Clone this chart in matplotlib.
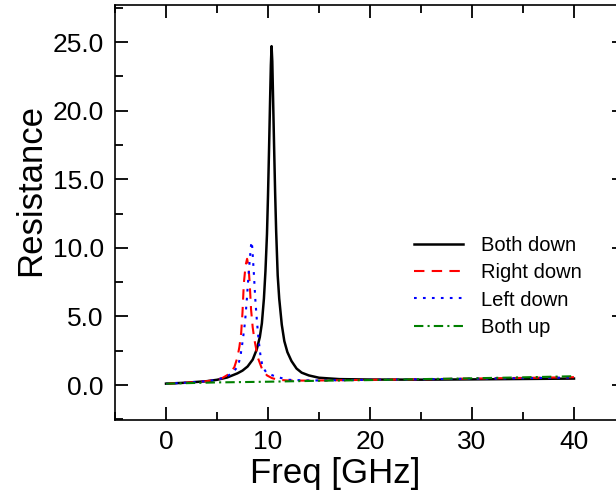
import matplotlib
matplotlib.use("Agg")
from matplotlib import pyplot as plt
from matplotlib.ticker import MultipleLocator, FormatStrFormatter

plt.rcParams['font.family'] = ['Liberation Sans', 'DejaVu Sans']

# -----data-----#
freq_both_down = [0, 2, 4, 5, 6, 7, 7.5, 8, 8.5, 8.9, 9.2, 9.4, 9.6, 9.75, 9.9, 10.0, 10.1,
                  10.2, 10.28, 10.35, 10.42, 10.5, 10.6, 10.7, 10.8, 10.95, 11.1, 11.35, 11.6,
                  11.9, 12.3, 12.8, 13.3, 14, 15, 17, 20, 25, 30, 35, 40]
res_both_down = [0.10, 0.17, 0.28, 0.38, 0.55, 0.85, 1.05, 1.35, 1.85, 2.6, 3.5, 4.5, 6.3, 8.3,
                 11.0, 13.8, 17.1, 20.6, 23.3, 24.7, 23.6, 20.8, 17.3, 14.0, 11.2, 8.0, 6.3,
                 4.4, 3.2, 2.4, 1.75, 1.2, 0.9, 0.7, 0.53, 0.43, 0.40, 0.39, 0.41, 0.44, 0.47]

freq_right_down = [0, 2, 4, 5, 5.5, 6, 6.3, 6.7, 7.0, 7.2, 7.37, 7.5, 7.63, 7.8, 7.95, 8.1,
                   8.22, 8.34, 8.5, 8.67, 9.0, 9.45, 9.9, 10.4, 11, 12, 14, 17, 20, 25, 30,
                   35, 40]
res_right_down = [0.10, 0.17, 0.28, 0.40, 0.50, 0.72, 0.87, 1.3, 2.0, 2.8, 3.8, 5.3, 7.4, 8.7,
                  9.2, 8.6, 7.2, 5.5, 4.2, 3.3, 2.0, 1.1, 0.7, 0.5, 0.38, 0.33, 0.32, 0.35,
                  0.38, 0.42, 0.47, 0.52, 0.57]

freq_left_down = [0, 2, 4, 5, 6, 6.5, 7.04, 7.3, 7.53, 7.75, 7.92, 8.08, 8.2, 8.3, 8.37, 8.45,
                  8.6, 8.76, 8.92, 9.08, 9.27, 9.47, 9.8, 10.3, 10.8, 12, 14, 17, 20, 25, 30,
                  35, 40]
res_left_down = [0.10, 0.17, 0.28, 0.38, 0.62, 0.9, 1.33, 2.1, 3.28, 4.6, 6.2, 7.9, 9.0, 9.9,
                 10.45, 10.1, 8.3, 6.2, 4.6, 3.28, 2.1, 1.33, 0.95, 0.75, 0.6, 0.38, 0.33,
                 0.35, 0.38, 0.42, 0.46, 0.5, 0.55]

freq_both_up = [0, 5, 10, 15, 20, 25, 30, 35, 40]
res_both_up = [0.10, 0.19, 0.24, 0.31, 0.36, 0.43, 0.49, 0.56, 0.64]

labels = ["Both down", "Right down", "Left down", "Both up"]

fig = plt.figure(figsize=(6.16, 4.99), dpi=100)
ax = fig.add_axes([115 / 616, 1 - 420 / 499, 510 / 616, 415 / 499])

ax.plot(freq_both_down, res_both_down, color="black", lw=1.8, label=labels[0])
ax.plot(freq_right_down, res_right_down, color="#ff0000", lw=1.5, dashes=(5, 3.5), label=labels[1])
ax.plot(freq_left_down, res_left_down, color="#0000ff", lw=1.5, dashes=(1.3, 3), label=labels[2])
ax.plot(freq_both_up, res_both_up, color="#008000", lw=1.5, dashes=(4.5, 2, 1, 2), label=labels[3])

ax.set_xlim(-5, 45)
ax.set_ylim(-2.55, 27.7)
ax.xaxis.set_major_locator(MultipleLocator(10))
ax.xaxis.set_minor_locator(MultipleLocator(5))
ax.yaxis.set_major_locator(MultipleLocator(5))
ax.yaxis.set_minor_locator(MultipleLocator(2.5))
ax.yaxis.set_major_formatter(FormatStrFormatter("%.1f"))

ax.tick_params(which="both", direction="in", top=True, right=True, width=1.3, labelsize=19)
ax.tick_params(which="major", length=9.5)
ax.tick_params(which="minor", length=5.8)
ax.tick_params(axis="y", pad=8)
ax.tick_params(axis="x", pad=7)
for s in ax.spines.values():
    s.set_linewidth(1.2)

ax.set_xlabel("Freq [GHz]", fontsize=25)
ax.set_ylabel("Resistance", fontsize=25)
# labels sit centred on the visible part of the plot
ax.xaxis.set_label_coords((335 - 115) / 510, -0.09)
ax.yaxis.set_label_coords(-0.133, (420 - 190) / 415)

ax.legend(loc="upper left", bbox_to_anchor=(0.55, 0.488), frameon=False, fontsize=14.5,
          handlelength=2.45, handletextpad=0.9, labelspacing=0.42)

fig.savefig("out.png", dpi=100)
